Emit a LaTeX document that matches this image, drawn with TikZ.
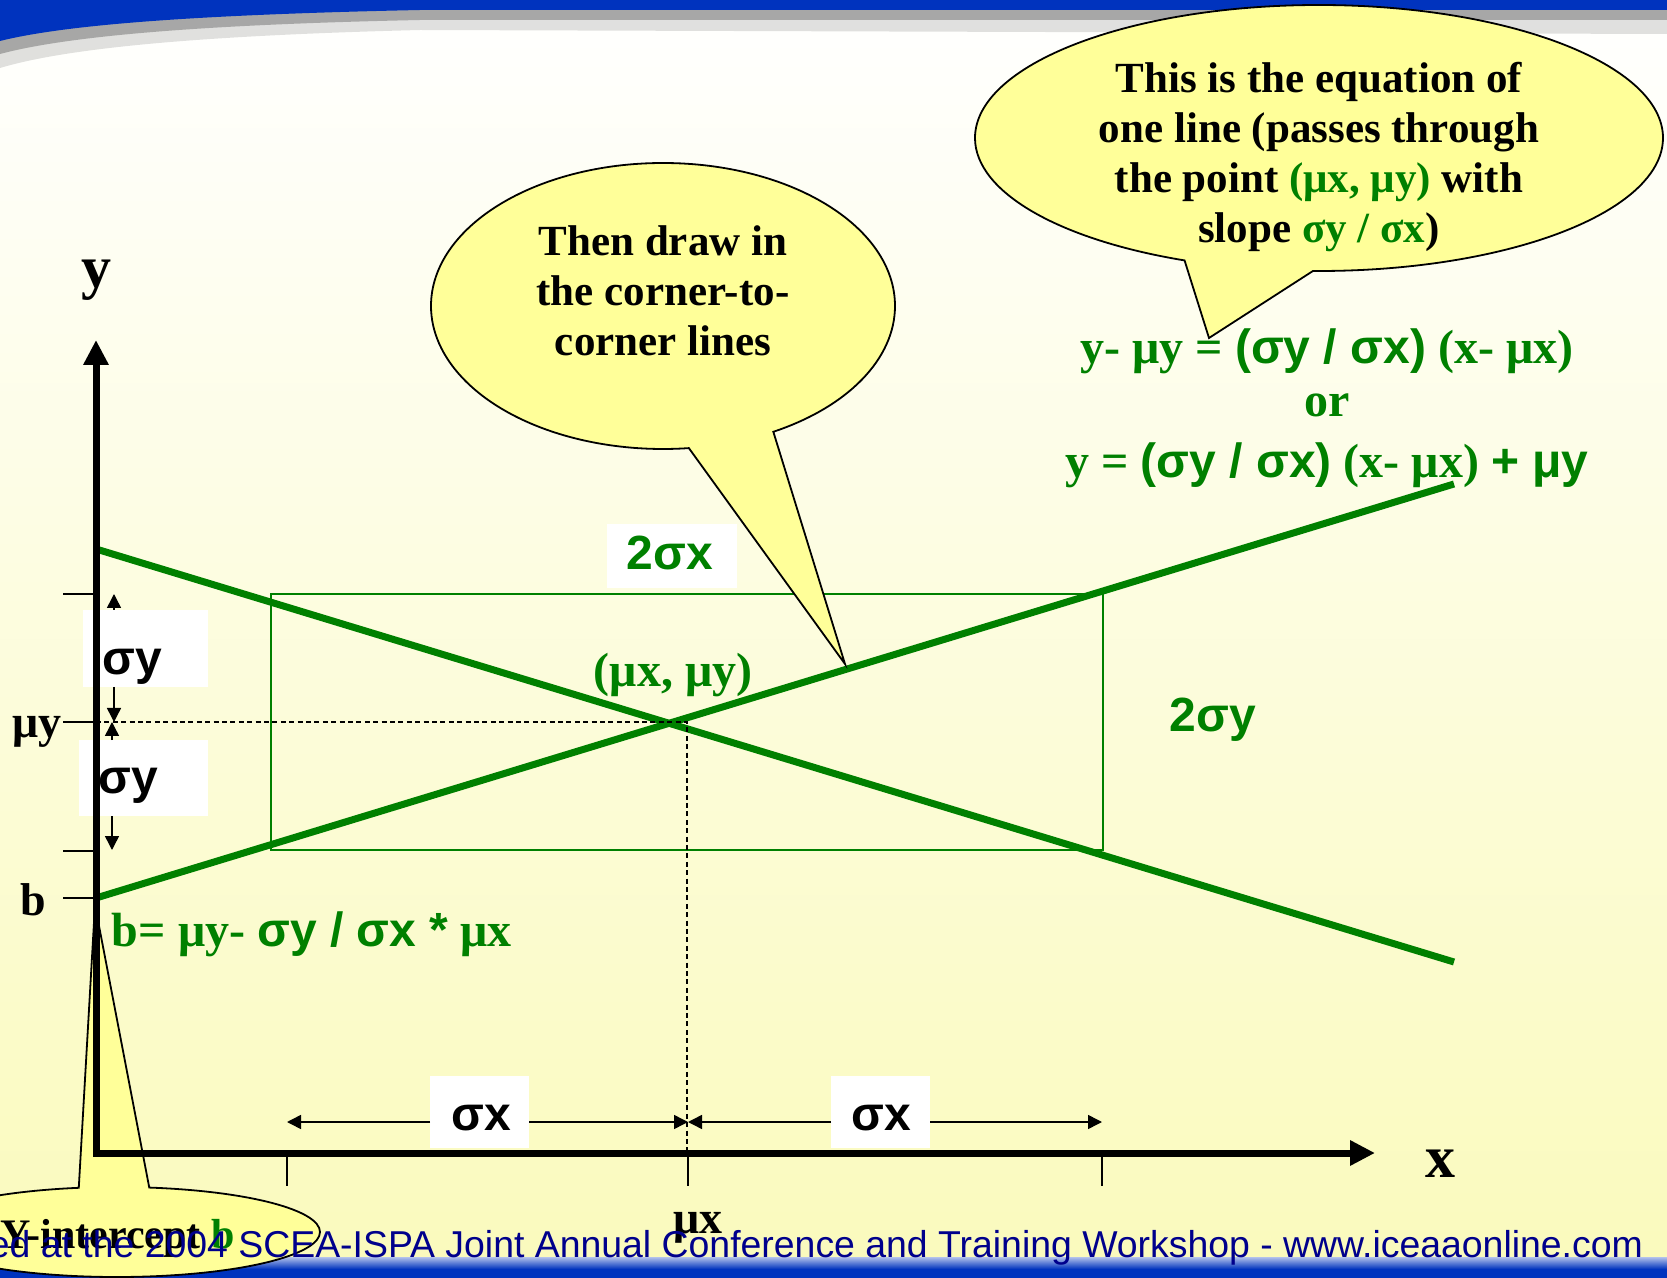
\documentclass[tikz,border=0pt]{standalone}
\usepackage{fontspec}
\setmainfont{Liberation Serif}
\setsansfont{Liberation Sans}
\usetikzlibrary{positioning, shapes.callouts, arrows.meta}

\definecolor{slidegreen}{RGB}{0,128,0}
\definecolor{bubblefill}{RGB}{255,255,153}
\definecolor{bandblue}{RGB}{0,51,190}
\definecolor{footblue}{RGB}{0,0,140}
\definecolor{paleyellow}{RGB}{250,250,188}

\newcommand{\sfb}[1]{{\sffamily\bfseries #1}}
\newcommand{\grn}[1]{{\color{slidegreen}#1}}

\begin{document}
\begin{tikzpicture}[x=0.5pt, y=-0.5pt,
    every node/.style={inner sep=0pt, outer sep=0pt},
    bubble/.style={ellipse callout, draw=black, line width=0.9pt, fill=bubblefill},
    bubbletext/.style={font=\fontsize{21.5}{25}\selectfont\bfseries, align=center},
    axis/.style={line width=3.5pt, {Triangle[length=12.5pt, width=12pt]}-{Triangle[length=12.5pt, width=12pt]}},
    dim/.style={line width=0.75pt, -{Triangle[length=7pt, width=7pt]}},
    axtick/.style={line width=0.75pt},
    guide/.style={line width=0.6pt, dash pattern=on 2.5pt off 1.7pt},
    corner/.style={slidegreen, line width=3.5pt},
    whitebox/.style={fill=white},
    serlab/.style={font=\fontsize{23}{27}\selectfont\bfseries, anchor=base},
    axlab/.style={font=\fontsize{30}{34}\selectfont\bfseries, anchor=base},
    sflab/.style={font=\fontsize{24}{28}\sffamily\bfseries, anchor=base},
    eqline/.style={font=\fontsize{24}{28}\selectfont\bfseries, text=slidegreen, anchor=base}]

  \useasboundingbox (0,0) rectangle (1667,1278);
  \shade[top color=white, bottom color=paleyellow] (0,0) rectangle (1667,1278);

  % slide frame
  \fill[black, opacity=0.12] (0,0) -- (1667,0) -- (1667,34) -- (420,30) .. controls (180,36) and (60,50) .. (0,68) -- cycle;
  \fill[black, opacity=0.25] (0,0) -- (1667,0) -- (1667,20) -- (420,20) .. controls (180,25) and (60,38) .. (0,54) -- cycle;
  \fill[bandblue] (0,0) -- (1667,0) -- (1667,10) -- (420,10) .. controls (180,15) and (60,26) .. (0,41) -- cycle;
  \shade[top color=bandblue!30, bottom color=bandblue] (0,1257) rectangle (1667,1269);
  \fill[bandblue] (0,1269) rectangle (1667,1278);

  \coordinate (O) at (96,1153);
  \coordinate (yTip) at (96,340);
  \coordinate (xTip) at (1375,1153);
  \coordinate (mu) at (687,722);
  \coordinate (bpt) at (96,898);

  \draw[slidegreen, line width=1pt] (271,594) rectangle (1103,850);
  \coordinate (riseEnd) at (1454,484);
  \coordinate (fallStart) at (96,549);
  \coordinate (fallEnd) at (1454,962);
  \draw[corner] (bpt) -- (riseEnd);
  \draw[corner] (fallStart) -- (fallEnd);
  \draw[guide] (O |- mu) -- (mu) -- (mu |- O);

  \node[whitebox, minimum width=62.5pt, minimum height=38.5pt] (syhi) at (145.5,648.5) {};
  \node[whitebox, minimum width=64.5pt, minimum height=38pt] (sylo) at (143.5,778) {};
  \node[whitebox, minimum width=49.5pt, minimum height=36pt] (sxl) at (479.5,1112) {};
  \node[whitebox, minimum width=49.5pt, minimum height=36pt] (sxr) at (880.5,1112) {};
  \node[whitebox, minimum width=65pt, minimum height=32pt] (twosx) at (672,556) {};

  \coordinate (yintTip) at (95,905);
  \node[bubble, minimum width=203pt, minimum height=45pt, callout absolute pointer={(yintTip)}, callout pointer arc=20] (yint) at (117,1232) {};

  \draw[axis] (yTip) -- (O) -- (xTip);
  \foreach \ty in {594,722,851,898}
    \draw[axtick] (63,\ty) -- (96,\ty);
  \foreach \tx in {287,688,1102}
    \draw[axtick] (\tx,1153) -- (\tx,1186);

  \coordinate (syA) at (114,594);
  \coordinate (syB) at (114,722);
  \coordinate (syC) at (112,722);
  \coordinate (syD) at (112,850);
  \draw[dim] (syhi.north -| syA) -- (syA);
  \draw[dim] (syhi.south -| syB) -- (syB);
  \draw[dim] (sylo.north -| syC) -- (syC);
  \draw[dim] (sylo.south -| syD) -- (syD);
  \coordinate (sxA) at (287,1122);
  \coordinate (sxM) at (688,1122);
  \coordinate (sxB) at (1102,1122);
  \draw[dim] (sxl.west |- sxA) -- (sxA);
  \draw[dim] (sxl.east |- sxM) -- (sxM);
  \draw[dim] (sxr.west |- sxM) -- (sxM);
  \draw[dim] (sxr.east |- sxB) -- (sxB);

  \node[axlab] (ylab) at (96,288) {y};
  \node[axlab] (xlab) at (1440,1177) {x};
  \node[serlab] (muylab) at (37,738) {μy};
  \node[serlab] (blab) at (33,915) {b};
  \node[serlab] (muxlab) at (698,1233) {μx};
  \node[sflab] (syhitext) at (132,675) {σy};
  \node[sflab] (sylotext) at (128,793) {σy};
  \node[sflab] (sxltext) at (481,1130) {σx};
  \node[sflab] (sxrtext) at (881,1130) {σx};
  \node[sflab, text=slidegreen] (twosxtext) at (670,570) {2σx};
  \node[sflab, text=slidegreen] (twosytext) at (1213,732) {2σy};
  \node[eqline] (mulab) at (673,687) {(μx, μy)};
  \node[eqline, anchor=base west] (bformula) at (112,946) {b= μy- \sfb{σy / σx *} μx};

  \coordinate (cornerTip) at (845,664);
  \node[bubble, minimum width=232pt, minimum height=143pt, callout absolute pointer={(cornerTip)}, callout pointer arc=22] (drawnote) at (663,306) {};
  \node[bubbletext] (drawtext) at (663,290.5) {Then draw in\\the corner-to-\\corner lines};

  \coordinate (eqTip) at (1209,338);
  \node[bubble, minimum width=344pt, minimum height=133pt, callout absolute pointer={(eqTip)}, callout pointer arc=22] (eqnote) at (1319,138) {};
  \node[bubbletext] (eqtext) at (1319,157.5) {This is the equation of\\one line (passes through\\the point \grn{(μx, μy)} with\\slope \grn{σy / σx})};

  \node[eqline] (eq1) at (1327,364) {y- μy = \sfb{(σy / σx)} (x- μx)};
  \node[eqline] (eqor) at (1327,417) {or};
  \node[eqline] (eq2) at (1327,478) {y = \sfb{(σy / σx)} (x- μx) \sfb{+ μy}};

  \node[bubbletext, font=\fontsize{21}{25}\selectfont\bfseries, anchor=base west] (yinttext) at (0,1248) {Y-intercept \grn{b}};
  \node[anchor=base east, font=\fontsize{18.7}{21}\sffamily, text=footblue] (footer) at (1643,1257) {ed at the 2004 SCEA-ISPA Joint Annual Conference and Training Workshop - www.iceaaonline.com};
\end{tikzpicture}
\end{document}
